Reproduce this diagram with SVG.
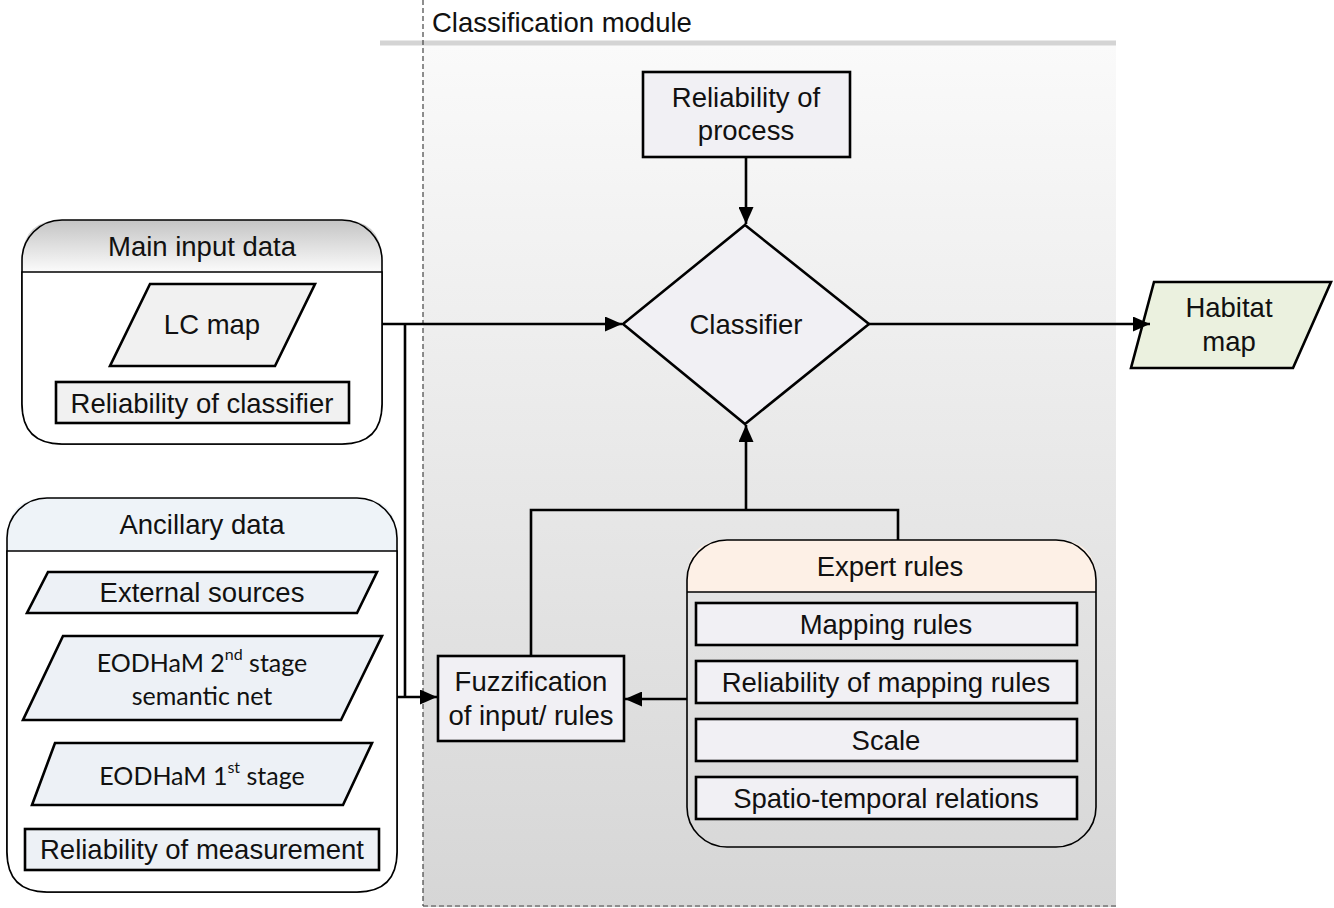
<svg xmlns="http://www.w3.org/2000/svg" width="1334" height="908" viewBox="0 0 1334 908">
  <style>
    .t { font-family: "Liberation Sans", Arial, sans-serif; font-size: 27.5px; fill: #111; text-anchor: middle; dominant-baseline: central; }
    .n { font-family: "Liberation Sans", Arial, sans-serif; font-size: 27.5px; fill: #111; text-anchor: middle; dominant-baseline: central; }
    .c { font-family: Lato, "Open Sans", sans-serif; font-size: 25px; fill: #111; text-anchor: middle; dominant-baseline: central; }
    .box { stroke: #000; stroke-width: 2.6; }
    .grp { stroke: #000; stroke-width: 1.6; }
    .edge { stroke: #000; stroke-width: 2.6; fill: none; }
  </style>
  <defs>
    <linearGradient id="panelFill" x1="0" y1="0" x2="0" y2="1">
      <stop offset="0" stop-color="#fafafa"/>
      <stop offset="1" stop-color="#d6d6d6"/>
    </linearGradient>
    <linearGradient id="mainHead" x1="0" y1="0" x2="0" y2="1">
      <stop offset="0" stop-color="#c4c4c4"/>
      <stop offset="1" stop-color="#fbfbfb"/>
    </linearGradient>
    <marker id="arrow" viewBox="0 0 17 15" refX="17" refY="7.5" markerWidth="17" markerHeight="15" markerUnits="userSpaceOnUse" orient="auto">
      <path d="M0,0 L17,7.5 L0,15 Z" fill="#000"/>
    </marker>
  </defs>

  <rect width="1334" height="908" fill="#fff"/>

  <!-- classification module panel -->
  <g id="classification-module">
    <rect x="423" y="45" width="693" height="862" fill="url(#panelFill)"/>
    <line x1="380" y1="43" x2="1116" y2="43" stroke="#d4d4d4" stroke-width="5"/>
    <line x1="423" y1="0" x2="423" y2="906" stroke="#444" stroke-width="1.2" stroke-dasharray="5,3"/>
    <line x1="423" y1="906" x2="1116" y2="906" stroke="#444" stroke-width="1.2" stroke-dasharray="5,3"/>
    <text class="t" x="432" y="22" style="text-anchor:start">Classification module</text>
  </g>

  <!-- main input data group -->
  <g id="main-input">
    <path d="M22,272 V260 Q22,220 62,220 H342 Q382,220 382,260 V272 Z" fill="url(#mainHead)"/>
    <rect x="22" y="220" width="360" height="224" rx="40" fill="none" class="grp"/>
    <path d="M22,272 V404 Q22,444 62,444 H342 Q382,444 382,404 V272 Z" fill="#fff" class="grp"/>
    <text class="t" x="202" y="246">Main input data</text>
  </g>
  <g id="lc-map">
    <polygon points="150,284 315,284 275,366 110,366" fill="#f1f1f1" class="box"/>
    <text class="t" x="212" y="324">LC map</text>
  </g>
  <g id="reliability-classifier">
    <rect x="56" y="382" width="293" height="41" fill="#f1f1f1" class="box"/>
    <text class="t" x="202" y="403">Reliability of classifier</text>
  </g>

  <!-- ancillary data group -->
  <g id="ancillary">
    <path d="M7,551 V538 Q7,498 47,498 H357 Q397,498 397,538 V551 Z" fill="#eef3f8"/>
    <rect x="7" y="498" width="390" height="394" rx="40" fill="none" class="grp"/>
    <path d="M7,551 V852 Q7,892 47,892 H357 Q397,892 397,852 V551 Z" fill="#fff" class="grp"/>
    <text class="t" x="202" y="524">Ancillary data</text>
  </g>
  <g id="external-sources">
    <polygon points="48,572 377,572 357,613 27,613" fill="#edf1f6" class="box"/>
    <text class="t" x="202" y="592">External sources</text>
  </g>
  <g id="eodham-2nd">
    <polygon points="63,636 382,636 341,720 23,720" fill="#edf1f6" class="box"/>
    <text class="c" x="202" y="662">EODHaM 2<tspan dy="-9" font-size="16">nd</tspan><tspan dy="9"> stage</tspan></text>
    <text class="c" x="202" y="695">semantic net</text>
  </g>
  <g id="eodham-1st">
    <polygon points="55,743 372,743 343,805 32,805" fill="#edf1f6" class="box"/>
    <text class="c" x="202" y="775">EODHaM 1<tspan dy="-9" font-size="16">st</tspan><tspan dy="9"> stage</tspan></text>
  </g>
  <g id="reliability-measurement">
    <rect x="25" y="829" width="354" height="41" fill="#edf1f6" class="box"/>
    <text class="t" x="202" y="849">Reliability of measurement</text>
  </g>

  <!-- classification nodes -->
  <g id="reliability-process">
    <rect x="643" y="72" width="207" height="85" fill="#f1f0f4" class="box"/>
    <text class="t" x="746" y="97">Reliability of</text>
    <text class="t" x="746" y="130">process</text>
  </g>
  <g id="classifier">
    <polygon points="745,225 869,324 745,424 623,324" fill="#f1f0f4" class="box"/>
    <text class="t" x="746" y="324">Classifier</text>
  </g>
  <g id="habitat-map">
    <polygon points="1154,282 1331,282 1293,368 1131,368" fill="#ebf1df" class="box"/>
    <text class="t" x="1229" y="307">Habitat</text>
    <text class="t" x="1229" y="341">map</text>
  </g>
  <g id="fuzzification">
    <rect x="438" y="656" width="186" height="85" fill="#f1f0f4" class="box"/>
    <text class="n" x="531" y="681">Fuzzification</text>
    <text class="n" x="531" y="715">of input/ rules</text>
  </g>
  <g id="expert-rules">
    <path d="M687,592 V580 Q687,540 727,540 H1056 Q1096,540 1096,580 V592 Z" fill="#fdf0e6"/>
    <rect x="687" y="540" width="409" height="307" rx="40" fill="none" class="grp"/>
    <line x1="687" y1="592" x2="1096" y2="592" class="grp"/>
    <text class="n" x="890" y="566">Expert rules</text>
  </g>
  <g id="mapping-rules">
    <rect x="696" y="603" width="381" height="42" fill="#f1f0f4" class="box"/>
    <text class="n" x="886" y="624">Mapping rules</text>
  </g>
  <g id="reliability-mapping-rules">
    <rect x="696" y="661" width="381" height="42" fill="#f1f0f4" class="box"/>
    <text class="n" x="886" y="682">Reliability of mapping rules</text>
  </g>
  <g id="scale">
    <rect x="696" y="719" width="381" height="42" fill="#f1f0f4" class="box"/>
    <text class="n" x="886" y="740">Scale</text>
  </g>
  <g id="spatio-temporal">
    <rect x="696" y="777" width="381" height="42" fill="#f1f0f4" class="box"/>
    <text class="n" x="886" y="798">Spatio-temporal relations</text>
  </g>

  <!-- connectors -->
  <g id="connectors">
    <path class="edge" d="M382,324 H622" marker-end="url(#arrow)"/>
    <path class="edge" d="M405,324 V697"/>
    <path class="edge" d="M397,697 H437" marker-end="url(#arrow)"/>
    <path class="edge" d="M746,157 V224" marker-end="url(#arrow)"/>
    <path class="edge" d="M869,324 H1150" marker-end="url(#arrow)"/>
    <path class="edge" d="M531,656 V510 H898 V540"/>
    <path class="edge" d="M746,510 V425" marker-end="url(#arrow)"/>
    <path class="edge" d="M687,699 H625" marker-end="url(#arrow)"/>
  </g>
</svg>
